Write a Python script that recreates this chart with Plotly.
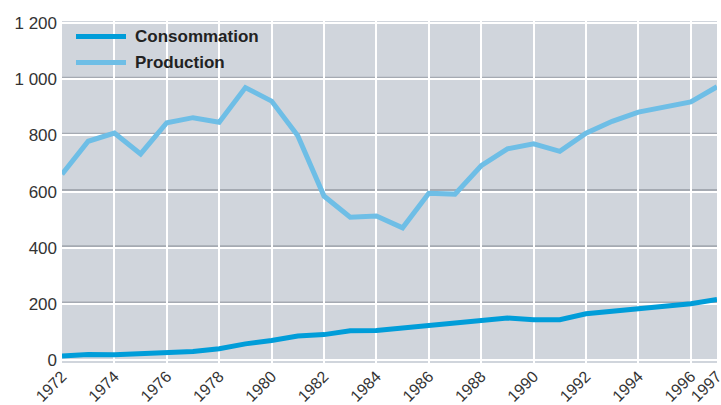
import plotly.graph_objects as go

years = list(range(1972, 1998))
consommation = [15, 20, 19, 23, 24, 31, 41, 58, 70, 86, 91, 105, 106, 115, 122, 132, 140, 150, 144, 144, 165, 173, 184, 192, 201, 216]
production = [662, 779, 808, 734, 845, 863, 847, 970, 922, 799, 584, 509, 513, 471, 594, 591, 692, 752, 770, 743, 808, 850, 883, 901, 919, 973]

x_ticks = [1972, 1974, 1976, 1978, 1980, 1982, 1984, 1986, 1988, 1990, 1992, 1994, 1996, 1997]
y_ticks = [0, 200, 400, 600, 800, 1000, 1200]
y_text = ["0", "200", "400", "600", "800", "1 000", "1 200"]

c_cons = "#009DD9"
c_prod = "#6EBEE6"
bg = "#D0D5DC"
shadow = "#A5AAB2"

fig = go.Figure()
fig.add_trace(go.Scatter(x=years, y=consommation, mode="lines", name="Consommation",
                         line=dict(color=c_cons, width=5), showlegend=False))
fig.add_trace(go.Scatter(x=years, y=production, mode="lines", name="Production",
                         line=dict(color=c_prod, width=5), showlegend=False))

shapes = []
for v in y_ticks[1:-1]:
    shapes.append(dict(type="rect", xref="x domain", yref="y", x0=0, x1=1, y0=v, y1=v + 9,
                       fillcolor=shadow, line=dict(width=0), layer="below"))

# custom legend
legend_items = [("Consommation", c_cons, 36.5), ("Production", c_prod, 62.5)]
annotations = []
for name, col, ypx in legend_items:
    yp = 1 - (ypx - 21) / (362.7 - 21)
    shapes.append(dict(type="line", xref="paper", yref="paper",
                       x0=(76 - 62) / 655, x1=(126 - 62) / 655, y0=yp, y1=yp,
                       line=dict(color=col, width=5), layer="above"))
    annotations.append(dict(text="<b>%s</b>" % name, xref="paper", yref="paper",
                            x=(133 - 62) / 655, y=yp, xanchor="left", yanchor="middle",
                            showarrow=False, font=dict(size=17, color="#222222",
                                                        family="Liberation Sans, Arial, sans-serif")))

fig.update_layout(
    width=721, height=405,
    margin=dict(l=62, r=4, t=21, b=42, autoexpand=False),
    paper_bgcolor="white", plot_bgcolor=bg,
    hovermode=False,
    font=dict(family="Liberation Sans, Arial, sans-serif", size=17, color="#333333"),
    shapes=shapes, annotations=annotations,
    xaxis=dict(range=[1972, 1997], tickvals=x_ticks, ticktext=[str(t) for t in x_ticks],
               tickangle=-45, showgrid=True, gridcolor="white", gridwidth=2,
               zeroline=False, showline=False, ticks="", ticklen=0, automargin=False,
               ticklabeloverflow="allow", tickfont=dict(size=16)),
    yaxis=dict(range=[-10, 1207], tickvals=y_ticks, ticktext=y_text, automargin=False,
               showgrid=True, gridcolor="white", gridwidth=2, zeroline=False,
               showline=False, ticks="", ticklabelstandoff=4),
)

fig.write_html("out.html", config={"displayModeBar": False},
               post_script="document.body.style.margin='0px';document.body.style.overflow='hidden';")
